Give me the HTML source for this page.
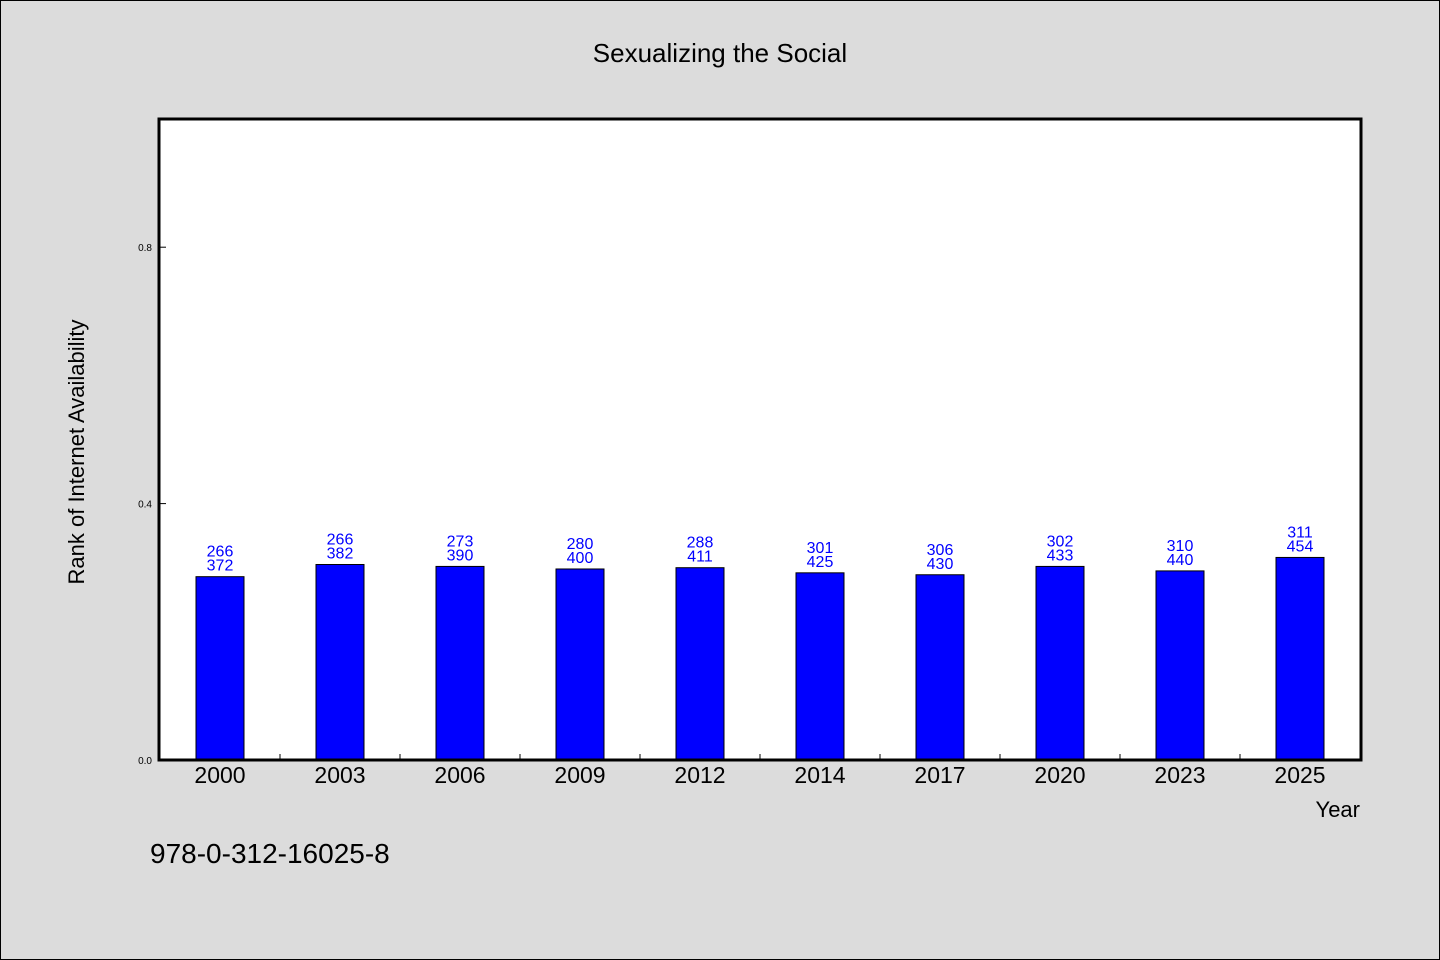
<!DOCTYPE html>
<html><head><meta charset="utf-8"><style>
body{margin:0;background:#dcdcdc;}
svg{display:block;font-family:"WenQuanYi Zen Hei","Liberation Sans",sans-serif;}
</style></head><body>
<svg id="chart" width="1440" height="960" viewBox="0 0 1440 960">
<rect x="0.5" y="0.5" width="1439" height="959" fill="#dcdcdc" stroke="#000"/>
<text x="720" y="62" text-anchor="middle" font-size="26" fill="#000">Sexualizing the Social</text>
<rect x="159" y="119" width="1202" height="641" fill="#fff"/>
<g id="marks"></g>
<rect x="159" y="119" width="1202" height="641" fill="none" stroke="#000" stroke-width="3"/>
<text transform="translate(84,452) rotate(-90)" text-anchor="middle" font-size="22" fill="#000">Rank of Internet Availability</text>
<text x="1360" y="817" text-anchor="end" font-size="22" fill="#000">Year</text>
<text x="150" y="863" font-size="28" fill="#000">978-0-312-16025-8</text>
</svg>
<script>
const categories=["2000","2003","2006","2009","2012","2014","2017","2020","2023","2025"];
const values=[0.286,0.305,0.302,0.298,0.300,0.292,0.289,0.302,0.295,0.316];
const labelTop=["266","266","273","280","288","301","306","302","310","311"];
const labelBottom=["372","382","390","400","411","425","430","433","440","454"];
const yTicks=[0.0,0.4,0.8];
const yTickLabels=["0.0","0.4","0.8"];
const NS="http://www.w3.org/2000/svg";
const x0=160,bandW=120,y0=760,yMax=1.0,plotH=641;
function yScale(v){return y0-v/yMax*plotH;}
function xCenter(i){return x0+bandW*(i+0.5);}
const g=document.getElementById('marks');
function mk(tag,attrs){const e=document.createElementNS(NS,tag);for(const k in attrs)e.setAttribute(k,attrs[k]);return e;}
yTicks.forEach((t,i)=>{
  const y=yScale(t);
  const l=mk('line',{x1:159,x2:166,y1:y,y2:y,stroke:'#000','stroke-width':1});
  
  
  g.appendChild(l);
  const tx=mk('text',{x:152,y:y+4,'text-anchor':'end','font-size':10,fill:'#000'});
  
  
  tx.textContent=yTickLabels[i];g.appendChild(tx);
});
categories.forEach((c,i)=>{
  const cx=xCenter(i),top=yScale(values[i]);
  const b=mk('rect',{x:cx-24,y:top,width:48,height:y0-top,fill:'#0000ff',stroke:'#000','stroke-width':1});
  
  
  g.appendChild(b);
  if(i<categories.length-1){
    const tk=mk('line',{x1:x0+bandW*(i+1),x2:x0+bandW*(i+1),y1:760,y2:754,stroke:'#000','stroke-width':1});
    
    
    g.appendChild(tk);
  }
  const xl=mk('text',{x:cx,y:783,'text-anchor':'middle','font-size':23,fill:'#000'});
  
  
  xl.textContent=c;g.appendChild(xl);
  const l1=mk('text',{x:cx,y:top-20,'text-anchor':'middle','font-size':16,fill:'#0000ff'});
  
  
  l1.textContent=labelTop[i];g.appendChild(l1);
  const l2=mk('text',{x:cx,y:top-6,'text-anchor':'middle','font-size':16,fill:'#0000ff'});
  
  
  l2.textContent=labelBottom[i];g.appendChild(l2);
});
</script>
</body></html>
